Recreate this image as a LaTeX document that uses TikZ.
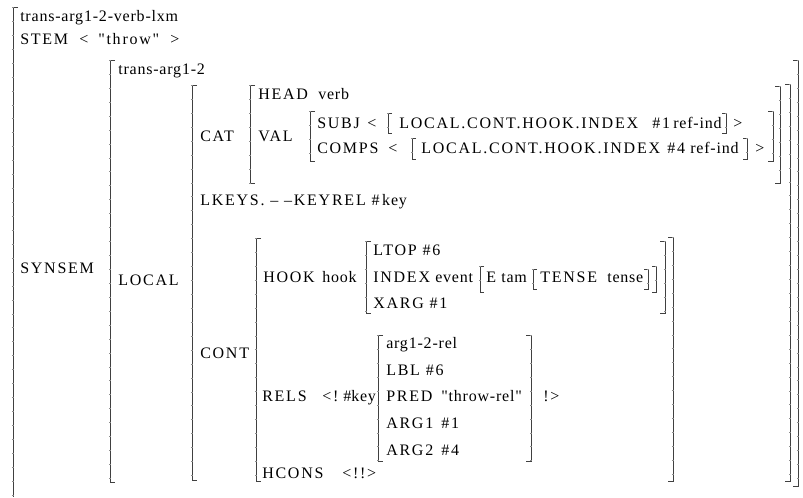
\documentclass[tikz,border=0pt]{standalone}
\usepackage{fontspec}
\setmainfont{Liberation Serif}
\newfontfamily\avmU[LetterSpace=11]{Liberation Serif}
\newfontfamily\avmL[LetterSpace=5]{Liberation Serif}
\newcommand\LBk[4][5]{\draw[brk] ({#2+#1},#3) -- (#2,#3) -- (#2,#4) -- ({#2+#1},#4);
  \draw[tick] (#2,#3) -- (#2,#4);}
\newcommand\RBk[4][5]{\draw[brk] ({#2-#1},#3) -- (#2,#3) -- (#2,#4) -- ({#2-#1},#4);
  \draw[tick] (#2,#3) -- (#2,#4);}
\begin{document}
\begin{tikzpicture}[x=0.75pt,y=-0.75pt,
  tx/.style={anchor=base west,inner sep=0pt,font=\fontsize{12}{14}\avmU},
  lw/.style={anchor=base west,inner sep=0pt,font=\fontsize{12}{14}\avmL},
  brk/.style={draw=black!75,line width=0.6pt},
  tick/.style={draw=black!45,line width=2.2pt,dash pattern=on 0.45pt off 10pt}]
\useasboundingbox (0,0) rectangle (803,497);
% outer
\draw[brk] (18,7) -- (13,7) -- (13,497);
\draw[tick] (13,7) -- (13,497);
\node[lw] (type) at (20,21) {trans-arg1-2-verb-lxm};
\node[tx] (stem) at (20,44) {STEM};
\node[tx] (stemlt) at (79,44) {<};
\node[tx] (stemv) at (98,44) {"throw"};
\node[tx] (stemgt) at (170,44) {>};
% SYNSEM
\node[tx] (synsem) at (20,273) {SYNSEM};
\LBk{110}{60}{482}
\RBk{798}{60}{486}
\node[lw] (ta) at (118,74) {trans-arg1-2};
% LOCAL
\node[tx] (local) at (118,285) {LOCAL};
\LBk{192}{85}{480}
\RBk{790}{84}{481}
% CAT
\node[tx] (cat) at (200,141) {CAT};
\LBk{250}{85}{183}
\RBk{780}{86}{183}
\node[tx] (head) at (258,99) {HEAD};
\node[lw] (verb) at (318,99) {verb};
\node[tx] (val) at (258,141) {VAL};
\LBk{310}{111}{161}
\RBk{773}{111}{161}
% SUBJ
\node[tx] (subj) at (317,128) {SUBJ};
\node[tx] (subjlt) at (367,128) {<};
\LBk[4]{388}{113}{133}
\node[tx] (subjp) at (399,128) {LOCAL.CONT.HOOK.INDEX};
\node[tx] (subji) at (652,128) {\#1};
\node[lw] (subjr) at (673,128) {ref-ind};
\RBk[4]{726}{113}{133}
\node[tx] (subjgt) at (733,128) {>};
% COMPS
\node[tx] (comps) at (317,153) {COMPS};
\node[tx] (compslt) at (388,153) {<};
\LBk[4]{412}{138}{159}
\node[tx] (compsp) at (421,153) {LOCAL.CONT.HOOK.INDEX};
\node[tx] (compsi) at (667,153) {\#4};
\node[lw] (compsr) at (690,153) {ref-ind};
\RBk[4]{747}{138}{159}
\node[tx] (compsgt) at (755,153) {>};
% LKEYS
\node[tx] (lkeys) at (200,205) {LKEYS.\ –\ –KEYREL \#\,{\avmL key}};
% CONT
\node[tx] (cont) at (200,358) {CONT};
\LBk{256}{238}{481}
\RBk{673}{237}{481}
% HOOK
\node[tx] (hook) at (263,282) {HOOK};
\node[lw] (hookt) at (322,282) {hook};
\LBk{366}{241}{313}
\RBk{665}{241}{313}
\node[tx] (ltop) at (373,255) {LTOP \#6};
\node[tx] (index) at (373,282) {INDEX};
\node[lw] (event) at (435,282) {event};
\LBk[4]{480}{266}{292}
\node[tx] (e) at (486,282) {E};
\node[lw] (tam) at (501,282) {tam};
\LBk[4]{533}{269}{289}
\node[tx] (tense) at (540,282) {TENSE};
\node[lw] (tenset) at (607,282) {tense};
\RBk[4]{648}{269}{289}
\RBk[4]{656}{266}{292}
\node[tx] (xarg) at (373,308) {XARG \#1};
% RELS
\node[tx] (rels) at (262,401) {RELS};
\node[tx] (relslt) at (322,401) {<!};
\node[tx] (relsk) at (343,401) {\#{\avmL key}};
\LBk{378}{335}{461}
\RBk{531}{335}{461}
\node[lw] (rtype) at (386,348) {arg1-2-rel};
\node[tx] (lbl) at (386,375) {LBL \#6};
\node[tx] (pred) at (386,401) {PRED};
\node[lw] (predv) at (441,401) {"throw-rel"};
\node[tx] (arg1) at (386,428) {ARG1};
\node[tx] (arg1v) at (441,428) {\#1};
\node[tx] (arg2) at (386,455) {ARG2};
\node[tx] (arg2v) at (441,455) {\#4};
\node[tx] (relsgt) at (543,401) {!>};
% HCONS
\node[tx] (hcons) at (262,478) {HCONS};
\node[tx] (hconsv) at (342,478) {<!!>};
\end{tikzpicture}
\end{document}
